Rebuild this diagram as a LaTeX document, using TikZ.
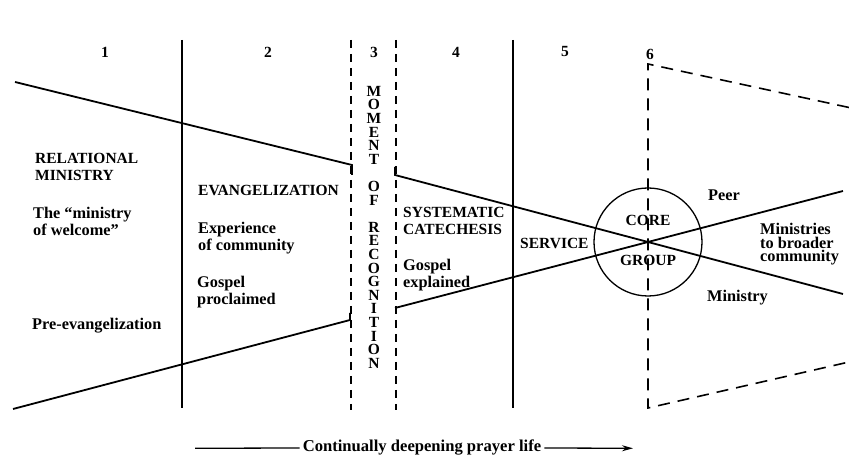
\documentclass[tikz,border=0pt]{standalone}
\usepackage{fontspec}
\setmainfont{Liberation Serif}
\usetikzlibrary{arrows.meta}
\tikzset{
  txt/.style = {inner sep=0pt, anchor=north west, align=left,
                font=\fontsize{16.3}{17}\selectfont\bfseries},
  caps/.style = {txt, font=\fontsize{15.5}{17}\selectfont\bfseries},
  num/.style = {inner sep=0pt, font=\fontsize{15.5}{17}\selectfont\bfseries},
  wall/.style = {line width=1.8pt},
  dashwall/.style = {line width=1.6pt, dash pattern=on 8pt off 6pt},
  wide/.style = {line width=1.6pt, dash pattern=on 12pt off 8pt},
  track/.style = {line width=1.8pt},
}
\begin{document}
\begin{tikzpicture}[x=10pt, y=10pt]
\useasboundingbox (0,0) rectangle (84.9,45.7);
%%
%% column lines
\draw [wall]      (18.2,41.7) -- (18.2,4.9);
\draw [dashwall]  (35.1,41.7) -- (35.1,4.7);
\draw [dashwall]  (39.6,41.7) -- (39.6,4.7);
\draw [wall]      (51.3,41.7) -- (51.3,4.9);
%% open funnel on the right
\draw [wide] (84.9,34.95) -- (64.8,39.3) -- (64.8,4.9) -- (84.9,9.5);
%%
%% core group circle
\node [circle, draw, line width=1.3pt, inner sep=0pt, minimum size=108pt] (ring) at (64.8,21.5) {};
%%
%% the narrowing band
\draw [track] (1.5,37.5) -- (35.2,29.2) -- (35.2,28.2);
\draw [track] (1.3,4.8)  -- (35.0,13.7) -- (35.0,14.4);
\draw [track] (39.5,29.0) -- (39.5,28.2) -- (ring.center) -- (84.3,16.3);
\draw [track] (39.5,14.9) -- (ring.center) -- (84.3,26.6);
%%
%% column numbers
\node [num] (c1) at (10.5,40.5) {1};
\node [num] (c2) at (26.8,40.5) {2};
\node [num] (c3) at (37.4,40.5) {3};
\node [num] (c4) at (45.6,40.5) {4};
\node [num] (c5) at (56.5,40.5) {5};
\node [num] (c6) at (65.0,40.3) {6};
%%
%% moment of recognition, stacked
\node [num, align=center, anchor=north, font=\fontsize{15.5}{13.6}\selectfont\bfseries] (moment) at (37.4,37.1)
  {M\\O\\M\\E\\N\\T\\[13.6pt]O\\F\\[13.6pt]R\\E\\C\\O\\G\\N\\I\\T\\I\\O\\N};
%%
%% stage texts
\node [caps] (relational) at (3.5,30.4) {RELATIONAL\\MINISTRY};
\node [txt]  (welcome)    at (3.3,25.0) {The ``ministry\\of welcome''};
\node [txt]  (preevang)   at (3.2,13.9) {Pre-evangelization};
\node [caps] (evang)      at (19.8,27.2) {EVANGELIZATION};
\node [txt]  (community)  at (19.8,23.5) {Experience\\of community};
\node [txt]  (proclaimed) at (19.7,18.1) {Gospel\\proclaimed};
\node [caps] (catechesis) at (40.3,25.0) {SYSTEMATIC\\CATECHESIS};
\node [txt]  (explained)  at (40.3,19.8) {Gospel\\explained};
\node [caps] (service)    at (52.0,21.9) {SERVICE};
\node [num] (core)  at (64.8,23.7) {CORE};
\node [num] (group) at (64.8,19.7) {GROUP};
\node [txt, anchor=west] (peer) at (70.8,26.2) {Peer};
\node [txt, font=\fontsize{16.3}{13.5}\selectfont\bfseries] (broader) at (76.0,23.4) {Ministries\\to broader\\community};
\node [txt, anchor=base west] (ministry) at (70.7,15.5) {Ministry};
%%
%% prayer life arrow
\node [num, inner sep=3pt, anchor=base, font=\fontsize{16.6}{17}\selectfont\bfseries] (prayer) at (42.2,0.5) {Continually deepening prayer life};
\coordinate (pstart) at (19.5,0.87);
\coordinate (pend)   at (63.3,0.87);
\draw [line width=1.3pt] (pstart) -- (prayer.west);
\draw [line width=1.3pt, -{Stealth[length=11pt,width=6pt]}] (prayer.east) -- (pend);
%%
\end{tikzpicture}
\end{document}
